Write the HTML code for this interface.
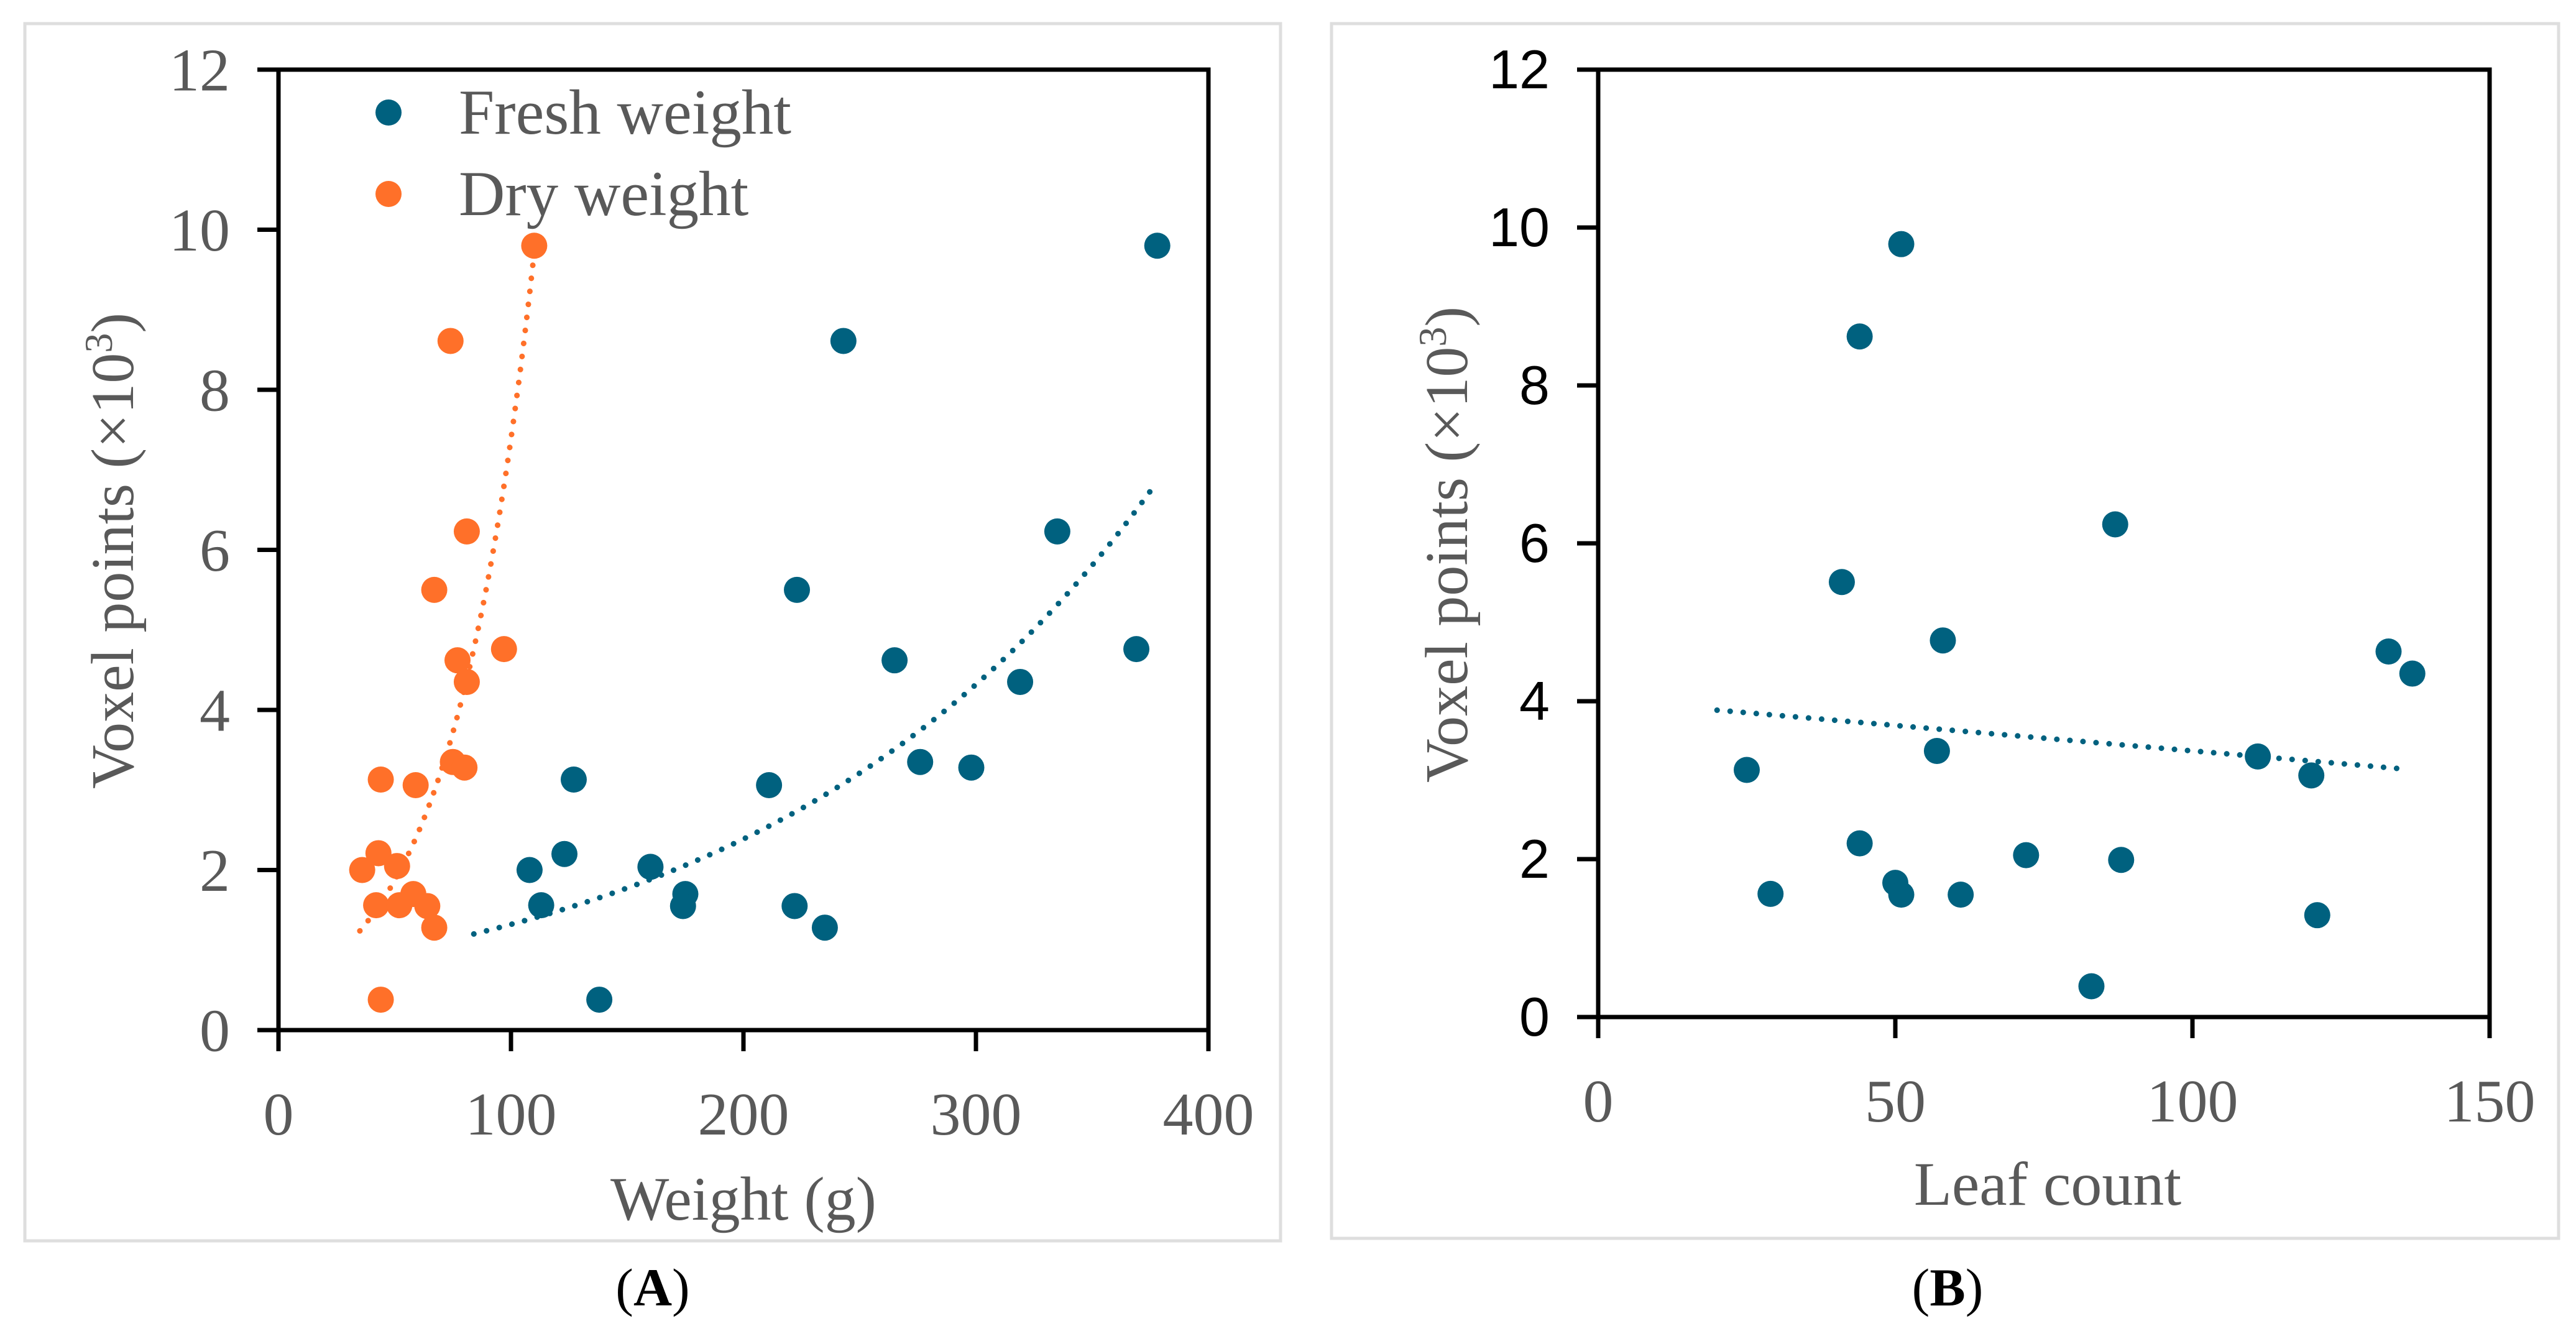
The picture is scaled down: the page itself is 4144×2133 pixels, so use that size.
<!DOCTYPE html>
<html><head><meta charset="utf-8">
<style>
html,body{margin:0;padding:0;background:#fff;}
svg{display:block;}
</style></head>
<body>
<svg id="fig" xmlns="http://www.w3.org/2000/svg" width="4144" height="2133" viewBox="0 0 4144 2133">
<rect x="0" y="0" width="4144" height="2133" fill="#fff"/>
<rect x="40" y="38" width="2020" height="1958" fill="none" stroke="#dedede" stroke-width="5"/>
<rect x="2142" y="38" width="1974" height="1954" fill="none" stroke="#dedede" stroke-width="5"/>
<g id="pa"></g>
<g id="pb"></g>
<text x="1050" y="2100" text-anchor="middle" font-family="Liberation Serif, serif" font-size="86" fill="#000">(<tspan font-weight="bold">A</tspan>)</text>
<text x="3133" y="2100" text-anchor="middle" font-family="Liberation Serif, serif" font-size="86" fill="#000">(<tspan font-weight="bold">B</tspan>)</text>
</svg>
<script>
// ---- Panel A data ----
const aXTicks = [0, 100, 200, 300, 400];
const aYTicks = [0, 2, 4, 6, 8, 10, 12];
const freshX = [108, 113, 123, 127, 138, 160, 175, 174, 211, 223, 222, 235, 243, 265, 276, 298, 319, 335, 369, 378];
const freshY = [2.00, 1.56, 2.20, 3.13, 0.38, 2.04, 1.70, 1.55, 3.06, 5.50, 1.55, 1.28, 8.61, 4.62, 3.35, 3.28, 4.35, 6.23, 4.76, 9.80];
const dryX = [36, 43, 42, 44, 44, 51, 52, 58, 59, 64, 67, 67, 74, 77, 75, 80, 81, 81, 97, 110];
const dryY = [2.00, 2.21, 1.56, 3.13, 0.38, 2.05, 1.56, 1.70, 3.06, 1.55, 1.28, 5.50, 8.61, 4.62, 3.35, 3.28, 4.35, 6.23, 4.76, 9.80];
const freshTrend = [0.73, 0.005925];   // y = a*exp(b*x)
const freshTrendRange = [84, 378];
const dryTrend = [0.474, 0.02746];
const dryTrendRange = [35, 110];
// ---- Panel B data ----
const bXTicks = [0, 50, 100, 150];
const bYTicks = [0, 2, 4, 6, 8, 10, 12];
const leafX = [25, 29, 41, 44, 44, 50, 51, 51, 57, 58, 61, 72, 83, 87, 88, 111, 120, 121, 133, 137];
const leafY = [3.13, 1.56, 5.51, 8.62, 2.20, 1.70, 9.79, 1.55, 3.37, 4.77, 1.55, 2.05, 0.39, 6.24, 1.99, 3.30, 3.06, 1.29, 4.63, 4.35];
const leafTrend = [4.016, -0.00645]; // y = a + b*x
const leafTrendRange = [20, 136];

const NS = 'http://www.w3.org/2000/svg';
const BLUE = '#00617f', ORANGE = '#ff7029';
function mk(tag, attrs, parent) {
  const e = document.createElementNS(NS, tag);
  for (const k in attrs) e.setAttribute(k, attrs[k]);
  parent.appendChild(e);
  return e;
}

function axes(g, sx, sy, xT, yT, x0, x1, y0, y1, yFont, yColor, ySize) {
  const frame = mk('rect', {x: sx(x0), y: sy(y1), width: sx(x1) - sx(x0), height: sy(y0) - sy(y1), fill: 'none', stroke: '#000', 'stroke-width': 7}, g);
  
  
  yT.forEach(v => {
    const t = mk('line', {x1: sx(x0) - 34, x2: sx(x0), y1: sy(v), y2: sy(v), stroke: '#000', 'stroke-width': 7}, g);
    
    
    const l = mk('text', {x: sx(x0) - 78, y: sy(v) + ySize * 0.34, 'text-anchor': 'end', 'font-family': yFont, 'font-size': ySize, fill: yColor}, g);
    l.textContent = v;
    
    
  });
  xT.forEach(v => {
    const t = mk('line', {x1: sx(v), x2: sx(v), y1: sy(y0), y2: sy(y0) + 34, stroke: '#000', 'stroke-width': 7}, g);
    
    
    const l = mk('text', {x: sx(v), y: sy(y0) + 168, 'text-anchor': 'middle', 'font-family': 'Liberation Serif, serif', 'font-size': 98, fill: '#595959'}, g);
    l.textContent = v;
    
    
  });
}

function points(g, sx, sy, xs, ys, color, name) {
  xs.forEach((x, i) => {
    const c = mk('circle', {cx: sx(x), cy: sy(ys[i]), r: 21, fill: color}, g);
    
    
  });
}

function trend(g, sx, sy, f, range, color, name) {
  let d = '';
  const n = 80;
  for (let i = 0; i <= n; i++) {
    const x = range[0] + (range[1] - range[0]) * i / n;
    d += (i ? 'L' : 'M') + sx(x).toFixed(1) + ',' + sy(f(x)).toFixed(1);
  }
  const p = mk('path', {d: d, fill: 'none', stroke: color, 'stroke-width': 9, 'stroke-linecap': 'round', 'stroke-dasharray': '0.1 21'}, g);
  
  
}

// Panel A
const ga = document.getElementById('pa');
const axL = 448, axR = 1944, ayB = 1657, ayT = 112;
const sxA = v => axL + (v - 0) / 400 * (axR - axL);
const syA = v => ayB - v / 12 * (ayB - ayT);
axes(ga, sxA, syA, aXTicks, aYTicks, 0, 400, 0, 12, 'Liberation Serif, serif', '#595959', 98);
trend(ga, sxA, syA, x => dryTrend[0] * Math.exp(dryTrend[1] * x), dryTrendRange, ORANGE, 'dry-weight-trendline');
trend(ga, sxA, syA, x => freshTrend[0] * Math.exp(freshTrend[1] * x), freshTrendRange, BLUE, 'fresh-weight-trendline');
points(ga, sxA, syA, freshX, freshY, BLUE, 'fresh-weight-point');
points(ga, sxA, syA, dryX, dryY, ORANGE, 'dry-weight-point');

const lg1 = mk('circle', {cx: 625, cy: 181, r: 21, fill: BLUE}, ga);


const lt1 = mk('text', {x: 738, y: 215, 'font-family': 'Liberation Serif, serif', 'font-size': 103, fill: '#595959'}, ga);
lt1.textContent = 'Fresh weight';


const lg2 = mk('circle', {cx: 625, cy: 312, r: 21, fill: ORANGE}, ga);


const lt2 = mk('text', {x: 738, y: 346, 'font-family': 'Liberation Serif, serif', 'font-size': 103, fill: '#595959'}, ga);
lt2.textContent = 'Dry weight';



const yta = mk('text', {x: 0, y: 0, transform: 'translate(214,886) rotate(-90)', 'text-anchor': 'middle', 'font-family': 'Liberation Serif, serif', 'font-size': 98, fill: '#595959'}, ga);
yta.innerHTML = 'Voxel points (×10<tspan dy="-34" font-size="64">3</tspan><tspan dy="34">)</tspan>';


const xta = mk('text', {x: 1196, y: 1962, 'text-anchor': 'middle', 'font-family': 'Liberation Serif, serif', 'font-size': 100, fill: '#595959'}, ga);
xta.textContent = 'Weight (g)';



// Panel B
const gb = document.getElementById('pb');
const bxL = 2571, bxR = 4005, byB = 1636, byT = 112;
const sxB = v => bxL + v / 150 * (bxR - bxL);
const syB = v => byB - v / 12 * (byB - byT);
axes(gb, sxB, syB, bXTicks, bYTicks, 0, 150, 0, 12, 'Liberation Sans, sans-serif', '#000', 88);
trend(gb, sxB, syB, x => leafTrend[0] + leafTrend[1] * x, leafTrendRange, BLUE, 'leaf-count-trendline');
points(gb, sxB, syB, leafX, leafY, BLUE, 'leaf-count-point');

const ytb = mk('text', {x: 0, y: 0, transform: 'translate(2360,876) rotate(-90)', 'text-anchor': 'middle', 'font-family': 'Liberation Serif, serif', 'font-size': 98, fill: '#595959'}, gb);
ytb.innerHTML = 'Voxel points (×10<tspan dy="-34" font-size="64">3</tspan><tspan dy="34">)</tspan>';


const xtb = mk('text', {x: 3294, y: 1938, 'text-anchor': 'middle', 'font-family': 'Liberation Serif, serif', 'font-size': 100, fill: '#595959'}, gb);
xtb.textContent = 'Leaf count';


</script>
</body></html>
